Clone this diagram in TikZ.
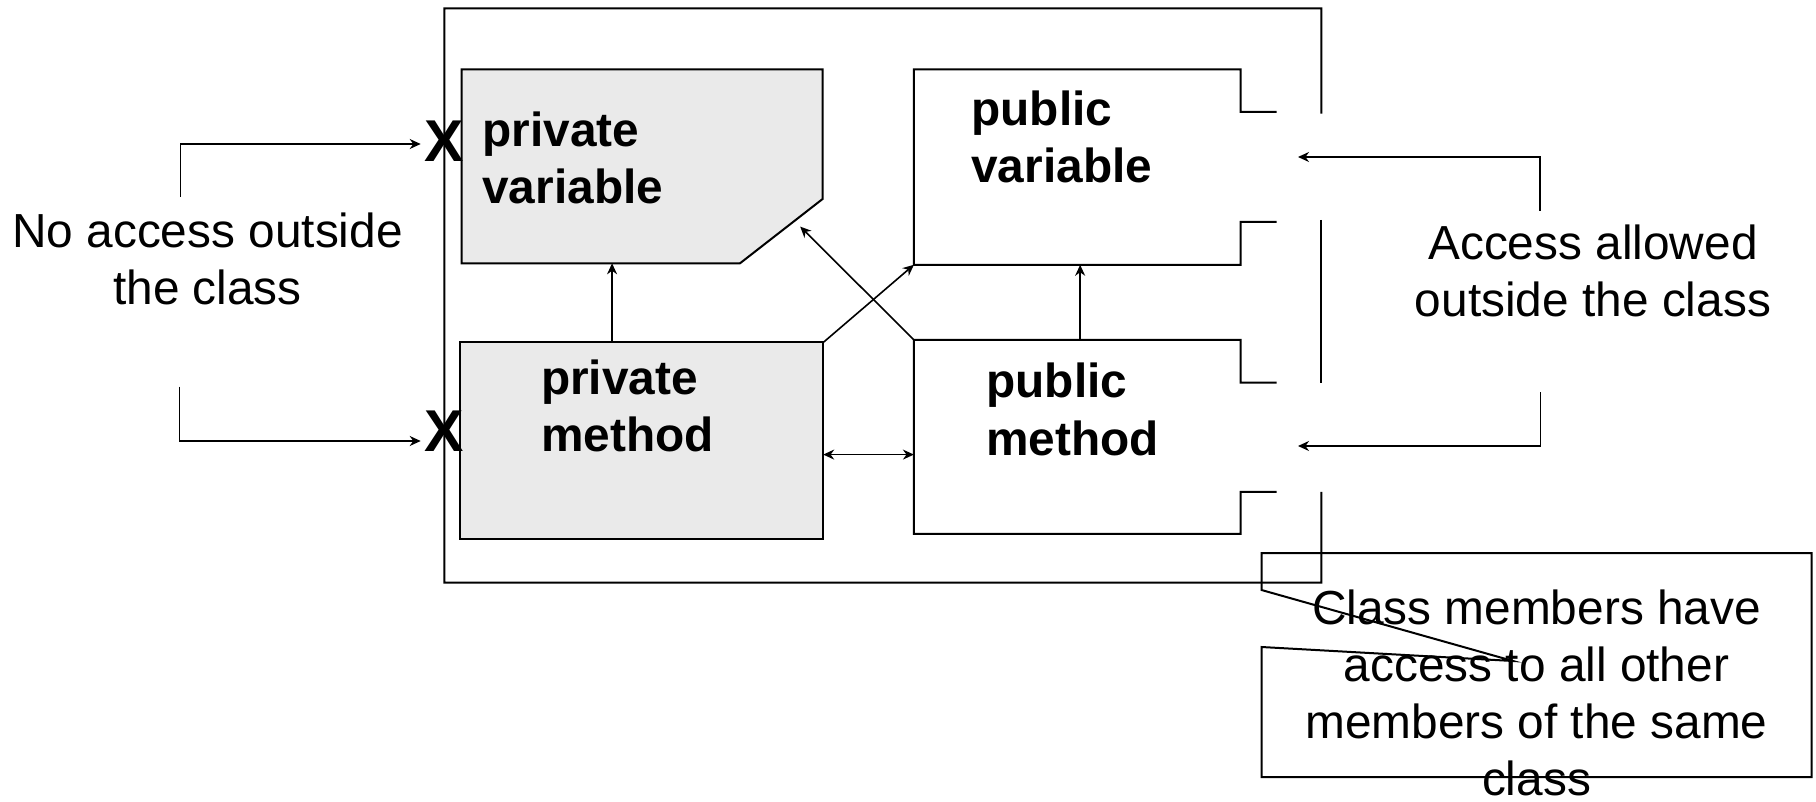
\documentclass[tikz,border=0pt]{standalone}
\usepackage{fontspec}
\setmainfont{Liberation Sans}
\usetikzlibrary{arrows.meta,fit,calc}
\definecolor{boxgray}{HTML}{EAEAEA}
\begin{document}
\begin{tikzpicture}[x=0.5pt,y=-0.5pt,
  lbl/.style={font=\fontsize{23.9}{28.5}\selectfont, inner sep=0, align=center, anchor=base},
  blbl/.style={font=\fontsize{23.9}{28.5}\selectfont\bfseries, inner sep=0, align=left, anchor=base west},
  xmark/.style={font=\fontsize{29.5}{30}\selectfont\bfseries, inner sep=0},
  ln/.style={line width=1pt, line join=miter},
  arr/.style={line width=0.8pt, -{Stealth[length=5.5pt,width=5pt]}},
  darr/.style={line width=0.8pt, {Stealth[length=5.5pt,width=5pt]}-{Stealth[length=5.5pt,width=5pt]}},
  region/.style={inner sep=0, outer sep=0, draw=none}]

\useasboundingbox (0,0) rectangle (1816,802);

% class box
\node[region, fit={(444.3,8.4) (1321.4,582.5)}] (cls) {};
\draw[ln] (1321.4,113.7) -- (cls.north east) -- (cls.north west) -- (cls.south west) -- (cls.south east) -- (1321.4,491.8);
\draw[ln] (1321.4,220) -- (1321.4,382.7);

% private variable
\node[region, fit={(461.6,69.3) (822.6,263.3)}] (pv) {};
\draw[ln, fill=boxgray] (pv.north west) -- (pv.north east) -- (822.6,199) -- (740,263.3) -- (pv.south west) -- cycle;

% private method
\node[region, fit={(459.8,342.5) (823.2,538.8)}] (pm) {};
\draw[ln, fill=boxgray] (pm.north west) rectangle (pm.south east);

% public variable
\node[region, fit={(913.9,69.3) (1240.5,264.8)}] (pbv) {};
\draw[ln] (1276.7,112) -- (1240.5,112) -- (pbv.north east) -- (pbv.north west) -- (pbv.south west) -- (pbv.south east) -- (1240.5,222) -- (1276.7,222);

% public method
\node[region, fit={(913.9,339.8) (1240.5,533.9)}] (pbm) {};
\draw[ln] (1276.7,382.7) -- (1240.5,382.7) -- (pbm.north east) -- (pbm.north west) -- (pbm.south west) -- (pbm.south east) -- (1240.5,491.8) -- (1276.7,491.8);

% labels (anchor = baseline of last line)
\node[blbl] (tpv) at (482,204) {private\\variable};
\node[blbl] (tpm) at (540.7,451.7) {private\\method};
\node[blbl] (tpbv) at (971,183) {public\\variable};
\node[blbl] (tpbm) at (986,455) {public\\method};

% inner connectors
\coordinate (a1) at ($(pm.north west)!0.419!(pm.north east)$);
\draw[arr] (a1) -- (a1 |- pv.south);
\draw[arr] (pm.north east) -- (pbv.south west);
\coordinate (pvc) at (800.2,226.6);
\draw[arr] (pbm.north west) -- (pvc);
\coordinate (a2) at ($(pbm.north west)!0.509!(pbm.north east)$);
\draw[arr] (a2) -- (a2 |- pbv.south);
\coordinate (b1) at ($(pm.north east)!0.571!(pm.south east)$);
\draw[darr] (b1) -- (b1 -| pbm.west);

% X marks
\node[xmark] (x1) at (444,141.7) {X};
\node[xmark] (x2) at (444,431.7) {X};

% left side
\node[lbl] (noacc) at (207.5,305) {No access outside\\the class};
\coordinate (l1) at (180.3,196.7);
\coordinate (l1t) at (420.7,144);
\draw[arr] (l1) |- (l1t);
\coordinate (l2) at (179.5,386.7);
\coordinate (l2t) at (420.7,441);
\draw[arr] (l2) |- (l2t);

% right side
\node[lbl] (acc) at (1593,316.7) {Access allowed\\outside the class};
\coordinate (r1) at (1540,211);
\coordinate (r1t) at (1298,157);
\draw[arr] (r1) |- (r1t);
\coordinate (r2) at (1540.5,392);
\coordinate (r2t) at (1298,446);
\draw[arr] (r2) |- (r2t);

% callout
\node[region, fit={(1261.5,553) (1811.6,777.2)}] (call) {};
\coordinate (tip) at (1513,661);
\draw[ln] (1261.5,590) -- (call.north west) -- (call.north east) -- (call.south east) -- (call.south west) -- (1261.5,647) -- (tip) -- cycle;
\node[lbl] (callt) at (1536.5,795) {Class members have\\access to all other\\members of the same\\class};
\end{tikzpicture}
\end{document}
